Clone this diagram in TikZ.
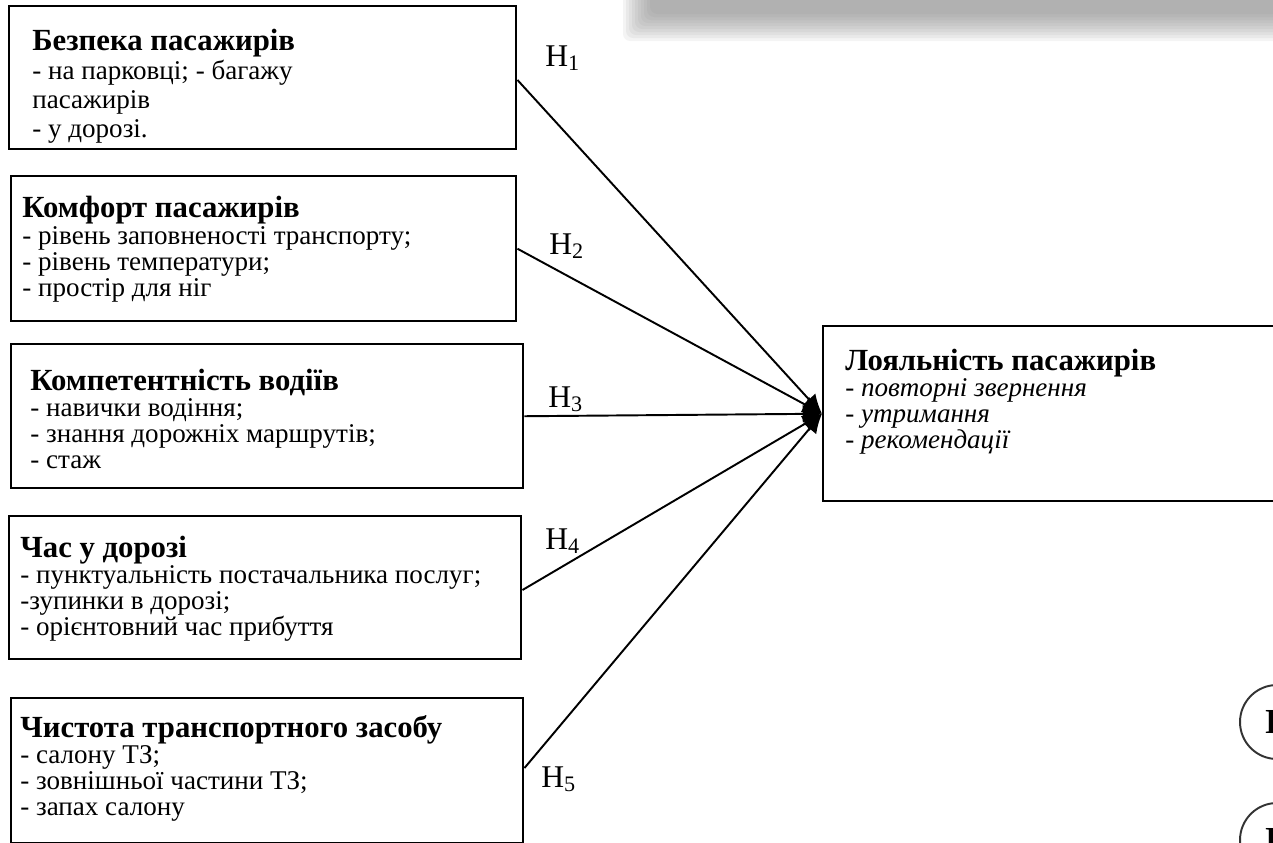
\documentclass[tikz,border=0pt]{standalone}
\usepackage{fontspec}
\setmainfont{Liberation Serif}
\usetikzlibrary{arrows.meta}

\def\px{0.02cm}
\newcommand{\hd}[1]{{\fontsize{17.5}{14.8}\selectfont\bfseries #1}}

\tikzset{
  factor/.style={draw, line width=1.4pt, anchor=north west, inner sep=0pt},
  facttext/.style={anchor=base west, align=left, inner sep=0pt,
    font=\fontsize{15.4}{14.8}\selectfont},
  link/.style={line width=1.1pt, -{Latex[length=11pt,width=10pt]}},
  hyp/.style={anchor=base west, inner sep=0pt, font=\fontsize{18}{18}\selectfont},
  badge/.style={circle, draw=black!80, line width=1.1pt, minimum size=74*\px,
    font=\fontsize{20}{20}\selectfont\bfseries}
}

\begin{document}
\begin{tikzpicture}[x=0.02cm, y=-0.02cm]
\useasboundingbox (0,0) rectangle (1273,842);
\clip (0,0) rectangle (1273,842);

% blurred bar on the top right
\foreach \k in {0,1,...,9}
{
    \fill[gray, opacity=0.09, rounded corners=4pt] (650-\k*3,-20) rectangle (1300,14+\k*3);
}

% factor boxes
\node[factor, minimum width=507*\px, minimum height=143*\px] (safety) at (8,5) {};
\node[factor, minimum width=505*\px, minimum height=145*\px] (comfort) at (10,175) {};
\node[factor, minimum width=512*\px, minimum height=144*\px] (driver) at (10,343) {};
\node[factor, minimum width=512*\px, minimum height=143*\px] (travel) at (8,515) {};
\node[factor, minimum width=512*\px, minimum height=145*\px] (clean) at (10,697) {};

% result box (runs off the right edge)
\node[factor, minimum width=480*\px, minimum height=175*\px] (loyal) at (822,325) {};

% texts, placed at the baseline of their last line
\node[facttext, font=\fontsize{15.4}{16.4}\selectfont] (safetyT) at (32,137)
  {\hd{Безпека пасажирів}\\- на парковці; - багажу\\пасажирів\\- у дорозі.};
\node[facttext] (comfortT) at (22,296)
  {\hd{Комфорт пасажирів}\\- рівень заповненості транспорту;\\- рівень температури;\\- простір для ніг};
\node[facttext] (driverT) at (30,468)
  {\hd{Компетентність водіїв}\\- навички водіння;\\- знання дорожніх маршрутів;\\- стаж};
\node[facttext] (travelT) at (20,635)
  {\hd{Час у дорозі}\\- пунктуальність постачальника послуг;\\-зупинки в дорозі;\\- орієнтовний час прибуття};
\node[facttext] (cleanT) at (20,815)
  {\hd{Чистота транспортного засобу}\\- салону ТЗ;\\- зовнішньої частини ТЗ;\\- запах салону};
\node[facttext] (loyalT) at (845,448)
  {\hd{Лояльність пасажирів}\\- \textit{повторні звернення}\\- \textit{утримання}\\- \textit{рекомендації}};

% hypotheses
\draw[link] (safety.east |- 0,80) -- (loyal.west);
\draw[link] (comfort.east) -- (loyal.west);
\draw[link] (driver.east) -- (loyal.west);
\draw[link] (travel.east |- 0,590) -- (loyal.west);
\draw[link] (clean.east |- 0,768) -- (loyal.west);

\node[hyp] (h1) at (545,66) {H\textsubscript{1}};
\node[hyp] (h2) at (549,254) {H\textsubscript{2}};
\node[hyp] (h3) at (548,407) {H\textsubscript{3}};
\node[hyp] (h4) at (545,549) {H\textsubscript{4}};
\node[hyp] (h5) at (541,787) {H\textsubscript{5}};

% cut off badges
\node[badge] (b1) at (1277,722) {В};
\node[badge] (b2) at (1277,840) {В};

\end{tikzpicture}
\end{document}
